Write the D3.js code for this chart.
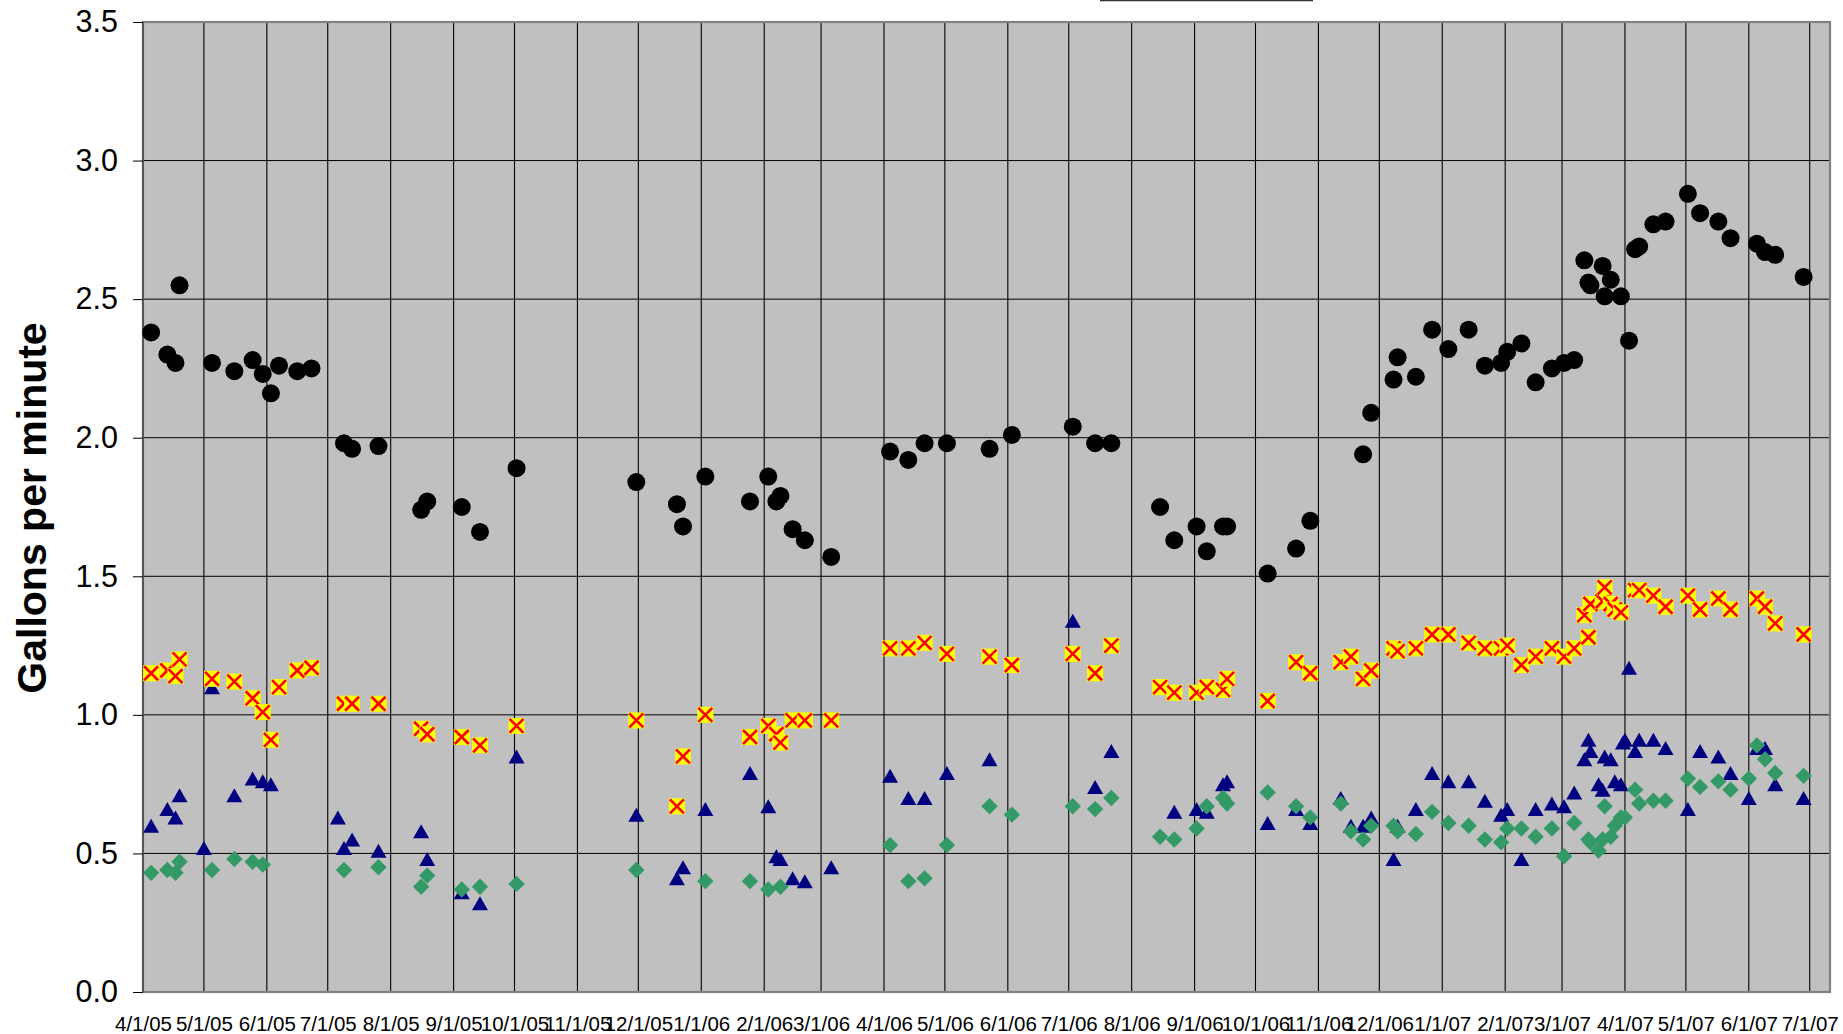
<!DOCTYPE html>
<html><head><meta charset="utf-8">
<script src="https://cdn.jsdelivr.net/npm/d3@7"></script>
<style>
body{margin:0;background:#fff}
svg{display:block}
text{font-family:"Liberation Sans",Arial,sans-serif;fill:#000}
</style>
</head><body>
<svg id="chart" width="1843" height="1034"></svg>
<script>
// ---- data ----
const dates = [
"2005-04-05","2005-04-13","2005-04-17","2005-04-19","2005-05-01","2005-05-05","2005-05-16","2005-05-25","2005-05-30",
"2005-06-03","2005-06-07","2005-06-16","2005-06-23","2005-07-06","2005-07-09","2005-07-13","2005-07-26","2005-08-16",
"2005-08-19","2005-09-05","2005-09-14","2005-10-02","2005-11-30","2005-12-20","2005-12-23",
"2006-01-03","2006-01-25","2006-02-03","2006-02-07","2006-02-09","2006-02-15","2006-02-21","2006-03-06",
"2006-04-04","2006-04-13","2006-04-21","2006-05-02","2006-05-23","2006-06-03","2006-07-03","2006-07-14","2006-07-22",
"2006-08-15","2006-08-22","2006-09-02","2006-09-07","2006-09-15","2006-09-17","2006-10-07","2006-10-21","2006-10-28",
"2006-11-12","2006-11-17","2006-11-23","2006-11-27","2006-12-08","2006-12-10","2006-12-19","2006-12-27",
"2007-01-04","2007-01-14","2007-01-22","2007-01-30","2007-02-02","2007-02-09","2007-02-16","2007-02-24",
"2007-03-02","2007-03-07","2007-03-12","2007-03-14","2007-03-15","2007-03-19","2007-03-21","2007-03-22","2007-03-25",
"2007-03-27","2007-03-30","2007-03-31","2007-04-01","2007-04-03","2007-04-06","2007-04-08","2007-04-15","2007-04-21",
"2007-05-02","2007-05-08","2007-05-17","2007-05-23","2007-06-01","2007-06-05","2007-06-09","2007-06-14","2007-06-28"
];
// black circles
const flowCircle = [
2.38,2.30,2.27,2.55,null,2.27,2.24,2.28,2.23,
2.16,2.26,2.24,2.25,null,1.98,1.96,1.97,1.74,
1.77,1.75,1.66,1.89,1.84,1.76,1.68,
1.86,1.77,1.86,1.77,1.79,1.67,1.63,1.57,
1.95,1.92,1.98,1.98,1.96,2.01,2.04,1.98,1.98,
1.75,1.63,1.68,1.59,1.68,1.68,1.51,1.60,1.70,
null,null,1.94,2.09,2.21,2.29,2.22,2.39,
2.32,2.39,2.26,2.27,2.31,2.34,2.20,2.25,
2.27,2.28,2.64,2.56,2.55,null,2.62,2.51,2.57,
null,2.51,null,null,2.35,2.68,2.69,2.77,2.78,
2.88,2.81,2.78,2.72,null,2.70,2.67,2.66,2.58
];
// yellow squares with red X
const flowCross = [
1.15,1.16,1.14,1.20,null,1.13,1.12,1.06,1.01,
0.91,1.10,1.16,1.17,null,1.04,1.04,1.04,0.95,
0.93,0.92,0.89,0.96,0.98,0.67,0.85,
1.00,0.92,0.96,0.93,0.90,0.98,0.98,0.98,
1.24,1.24,1.26,1.22,1.21,1.18,1.22,1.15,1.25,
1.10,1.08,1.08,1.10,1.09,1.13,1.05,1.19,1.15,
1.19,1.21,1.13,1.16,1.24,1.23,1.24,1.29,
1.29,1.26,1.24,1.24,1.25,1.18,1.21,1.24,
1.21,1.24,1.36,1.28,1.40,null,1.41,1.46,1.40,
1.38,1.37,null,null,null,1.45,1.45,1.43,1.39,
1.43,1.38,1.42,1.38,null,1.42,1.39,1.33,1.29
];
// navy triangles
const flowTriangle = [
0.60,0.66,0.63,0.71,0.52,1.10,0.71,0.77,0.76,
0.75,null,null,null,0.63,0.52,0.55,0.51,0.58,
0.48,0.36,0.32,0.85,0.64,0.41,0.45,
0.66,0.79,0.67,0.49,0.48,0.41,0.40,0.45,
0.78,0.70,0.70,0.79,0.84,null,1.34,0.74,0.87,
null,0.65,0.66,0.65,0.75,0.76,0.61,0.66,0.61,
0.70,0.60,0.60,0.63,0.48,0.60,0.66,0.79,
0.76,0.76,0.69,0.64,0.66,0.48,0.66,0.68,
0.67,0.72,0.84,0.91,0.87,0.75,0.73,0.85,0.84,
0.76,0.75,0.90,0.91,1.17,0.87,0.91,0.91,0.88,
0.66,0.87,0.85,0.79,0.70,0.88,0.88,0.75,0.70
];
// green diamonds
const flowDiamond = [
0.43,0.44,0.43,0.47,null,0.44,0.48,0.47,0.46,
null,null,null,null,null,0.44,null,0.45,0.38,
0.42,0.37,0.38,0.39,0.44,null,null,
0.40,0.40,0.37,null,0.38,null,null,null,
0.53,0.40,0.41,0.53,0.67,0.64,0.67,0.66,0.70,
0.56,0.55,0.59,0.67,0.70,0.68,0.72,0.67,0.63,
0.68,0.58,0.55,0.60,0.60,0.58,0.57,0.65,
0.61,0.60,0.55,0.54,0.59,0.59,0.56,0.59,
0.49,0.61,null,0.55,0.54,0.51,0.55,0.67,0.56,
0.60,0.63,null,0.63,null,0.73,0.68,0.69,0.69,
0.77,0.74,0.76,0.73,0.77,0.89,0.84,0.79,0.78
];
const yTicks = [0.0,0.5,1.0,1.5,2.0,2.5,3.0,3.5];
const xDomain = ["2005-04-01","2007-07-11"];
const xTickStart = "2005-04-01", xTickEnd = "2007-07-01";
const yTitle = "Gallons per minute";

// ---- layout ----
const svg = d3.select("#chart");
const L = 143, R = 1830, T = 22, B = 992;
const parse = d3.utcParse("%Y-%m-%d");
const x = d3.scaleUtc().domain(xDomain.map(parse)).range([L, R]);
const y = d3.scaleLinear().domain([0, 3.5]).range([B, T]);
const monthTicks = d3.utcMonth.range(parse(xTickStart), d3.utcDay.offset(parse(xTickEnd), 1));

// top strip (bottom edge of a box above the chart)
svg.append("line").attr("x1",1100).attr("x2",1313).attr("y1",0.5).attr("y2",0.5)
  .attr("stroke","#333").attr("stroke-width",1.6);

// plot background
svg.append("rect").attr("x",L).attr("y",T).attr("width",R-L).attr("height",B-T).attr("fill","#C0C0C0");

// gridlines
svg.append("g").selectAll("line").data(monthTicks).join("line")
  .attr("x1",d=>x(d)).attr("x2",d=>x(d)).attr("y1",T).attr("y2",B)
  .attr("stroke","#000").attr("stroke-width",1.1);
svg.append("g").selectAll("line").data(yTicks).join("line")
  .attr("x1",L).attr("x2",R).attr("y1",d=>y(d)).attr("y2",d=>y(d))
  .attr("stroke","#000").attr("stroke-width",1);

// frame
svg.append("rect").attr("x",L).attr("y",T).attr("width",R-L).attr("height",B-T)
  .attr("fill","none").attr("stroke","#808080").attr("stroke-width",2.2);
svg.append("line").attr("x1",L).attr("x2",L).attr("y1",T).attr("y2",B).attr("stroke","#555").attr("stroke-width",2);

// axes
const yAxis = svg.append("g").attr("transform",`translate(${L},0)`)
  .call(d3.axisLeft(y).tickValues(yTicks).tickFormat(d3.format(".1f")).tickSize(10).tickPadding(15));
yAxis.select(".domain").remove();
yAxis.selectAll("line").attr("stroke","#000");
yAxis.selectAll("text").attr("font-size",30.5).attr("font-family","Liberation Sans, Arial, sans-serif");

const xAxis = svg.append("g").attr("transform",`translate(0,${B})`)
  .call(d3.axisBottom(x).tickValues(monthTicks).tickFormat(d3.utcFormat("%-m/%-d/%y")).tickSize(0).tickPadding(24));
xAxis.select(".domain").remove();
xAxis.selectAll("text").attr("font-size",20.5).attr("font-family","Liberation Sans, Arial, sans-serif");

// y title
svg.append("text").attr("transform","translate(46,508) rotate(-90)")
  .attr("text-anchor","middle").attr("font-size",41).attr("font-weight","bold").text(yTitle);

// ---- marks ----
const rows = dates.map((d,i)=>({date:parse(d), c:flowCircle[i], t:flowTriangle[i], g:flowDiamond[i], k:flowCross[i]}));

svg.append("g").selectAll("circle").data(rows.filter(r=>r.c!=null)).join("circle")
  .attr("cx",r=>x(r.date)).attr("cy",r=>y(r.c)).attr("r",9).attr("fill","#000");

const tw = 16, th = 14;
svg.append("g").selectAll("path").data(rows.filter(r=>r.t!=null)).join("path")
  .attr("transform",r=>`translate(${x(r.date)},${y(r.t)})`)
  .attr("d",`M0,${-th/2}L${tw/2},${th/2}L${-tw/2},${th/2}Z`).attr("fill","#000080");

const dw = 8.2;
svg.append("g").selectAll("path").data(rows.filter(r=>r.g!=null)).join("path")
  .attr("transform",r=>`translate(${x(r.date)},${y(r.g)})`)
  .attr("d",`M0,${-dw}L${dw},0L0,${dw}L${-dw},0Z`).attr("fill","#339966");

const s = 8;
const cross = svg.append("g").selectAll("g").data(rows.filter(r=>r.k!=null)).join("g")
  .attr("transform",r=>`translate(${x(r.date)},${y(r.k)})`);
cross.append("rect").attr("x",-s).attr("y",-s).attr("width",2*s).attr("height",2*s).attr("fill","#FFFF00");
cross.append("path").attr("d",`M${-s+1},${-s+1}L${s-1},${s-1}M${s-1},${-s+1}L${-s+1},${s-1}`)
  .attr("stroke","#FF0000").attr("stroke-width",2.6).attr("fill","none");
</script>
</body></html>
